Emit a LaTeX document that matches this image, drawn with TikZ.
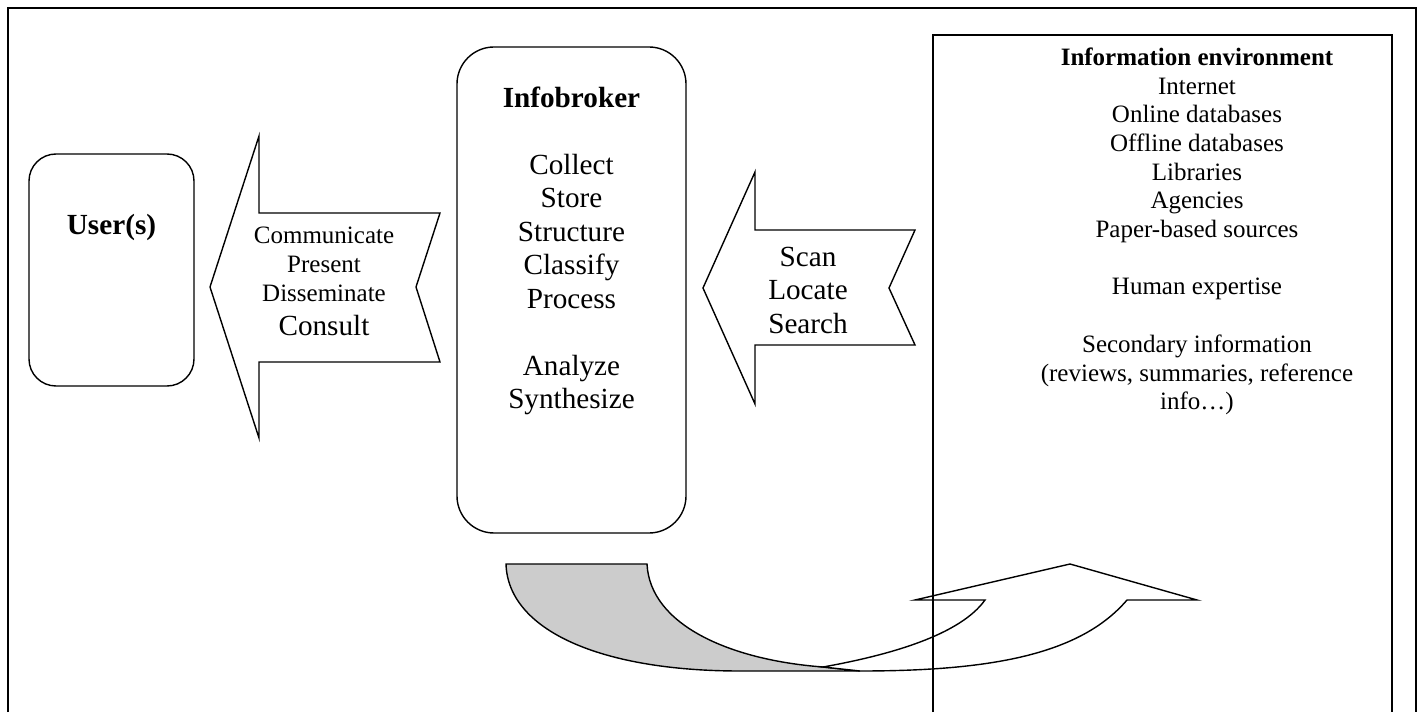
\documentclass[tikz,border=0pt]{standalone}
\usepackage{fontspec}
\setmainfont{Liberation Serif}
\usetikzlibrary{positioning}

\begin{document}
\begin{tikzpicture}[
    x=1pt, y=-1pt,
    line width=1.4pt,
    line join=miter,
    font=\fontsize{29.2}{33.5}\selectfont,
    box/.style={draw, rounded corners=27pt, inner sep=0pt},
    txt/.style={align=center, inner sep=0pt},
    smalltxt/.style={txt, font=\fontsize{25}{28.7}\selectfont},
    ribbon/.style={draw, fill=white},
    underside/.style={draw, fill=gray!40},
]
\useasboundingbox (0,0) rectangle (1425,719);

% --- Outer frame ---------------------------------------------
\draw (8,712) -- (8,8) -- (1416,8) -- (1416,712);

% --- User(s) -------------------------------------------------
\node[box, minimum width=165pt, minimum height=232pt] (users) at (111.5,270) {};
\node[txt, font=\fontsize{29.2}{33.5}\selectfont\bfseries] (userlbl) at (111.5,227) {User(s)};

% --- Infobroker ----------------------------------------------
\node[box, rounded corners=37pt, minimum width=229pt, minimum height=486pt] (broker) at (571.5,290) {};
\node[txt, anchor=north] (brokertxt) at (571.5,86)
    {\textbf{Infobroker}\\[33.5pt]
     Collect\\ Store\\ Structure\\ Classify\\ Process\\[33.5pt]
     Analyze\\ Synthesize};

% --- Arrow: broker to user(s) --------------------------------
\draw[ribbon] (210,287) -- (259,136) -- (259,213) -- (440,213) -- (416,287)
    -- (440,362) -- (259,362) -- (259,438) -- cycle;
\node[smalltxt, anchor=north] (sendtxt) at (324,226.5)
    {Communicate\\ Present\\ Disseminate};
\node[txt, below=12pt of sendtxt] (consult) {Consult};

% --- Arrow: environment to broker ----------------------------
\draw[ribbon] (703,288) -- (755,172) -- (755,230) -- (915,230) -- (889,288)
    -- (915,345) -- (755,345) -- (755,404) -- cycle;
\node[txt, anchor=north] (scantxt) at (808,246)
    {Scan\\ Locate\\ Search};

% --- Curved arrow: broker back to environment ----------------
\draw[underside] (506,564) -- (647,564) .. controls (650,625) and (730,660) .. (823,667)
    -- (860,671) -- (740,671) .. controls (600,671) and (508,630) .. (506,564) -- cycle;
\draw[ribbon] (823,667) .. controls (890,655) and (960,635) .. (985,600)
    -- (915,600) -- (1070,564) -- (1197,600) -- (1127,600)
    .. controls (1080,655) and (990,671) .. (860,671) -- cycle;

% --- Information environment ---------------------------------
\draw (933,712) -- (933,35) -- (1392,35) -- (1392,712);
\node[smalltxt, anchor=north] (envtxt) at (1197,47)
    {\textbf{Information environment}\\
     Internet\\ Online databases\\ Offline databases\\ Libraries\\
     Agencies\\ Paper-based sources\\[28.7pt]
     Human expertise\\[28.7pt]
     Secondary information\\ (reviews, summaries, reference\\ info…)};

\end{tikzpicture}
\end{document}
